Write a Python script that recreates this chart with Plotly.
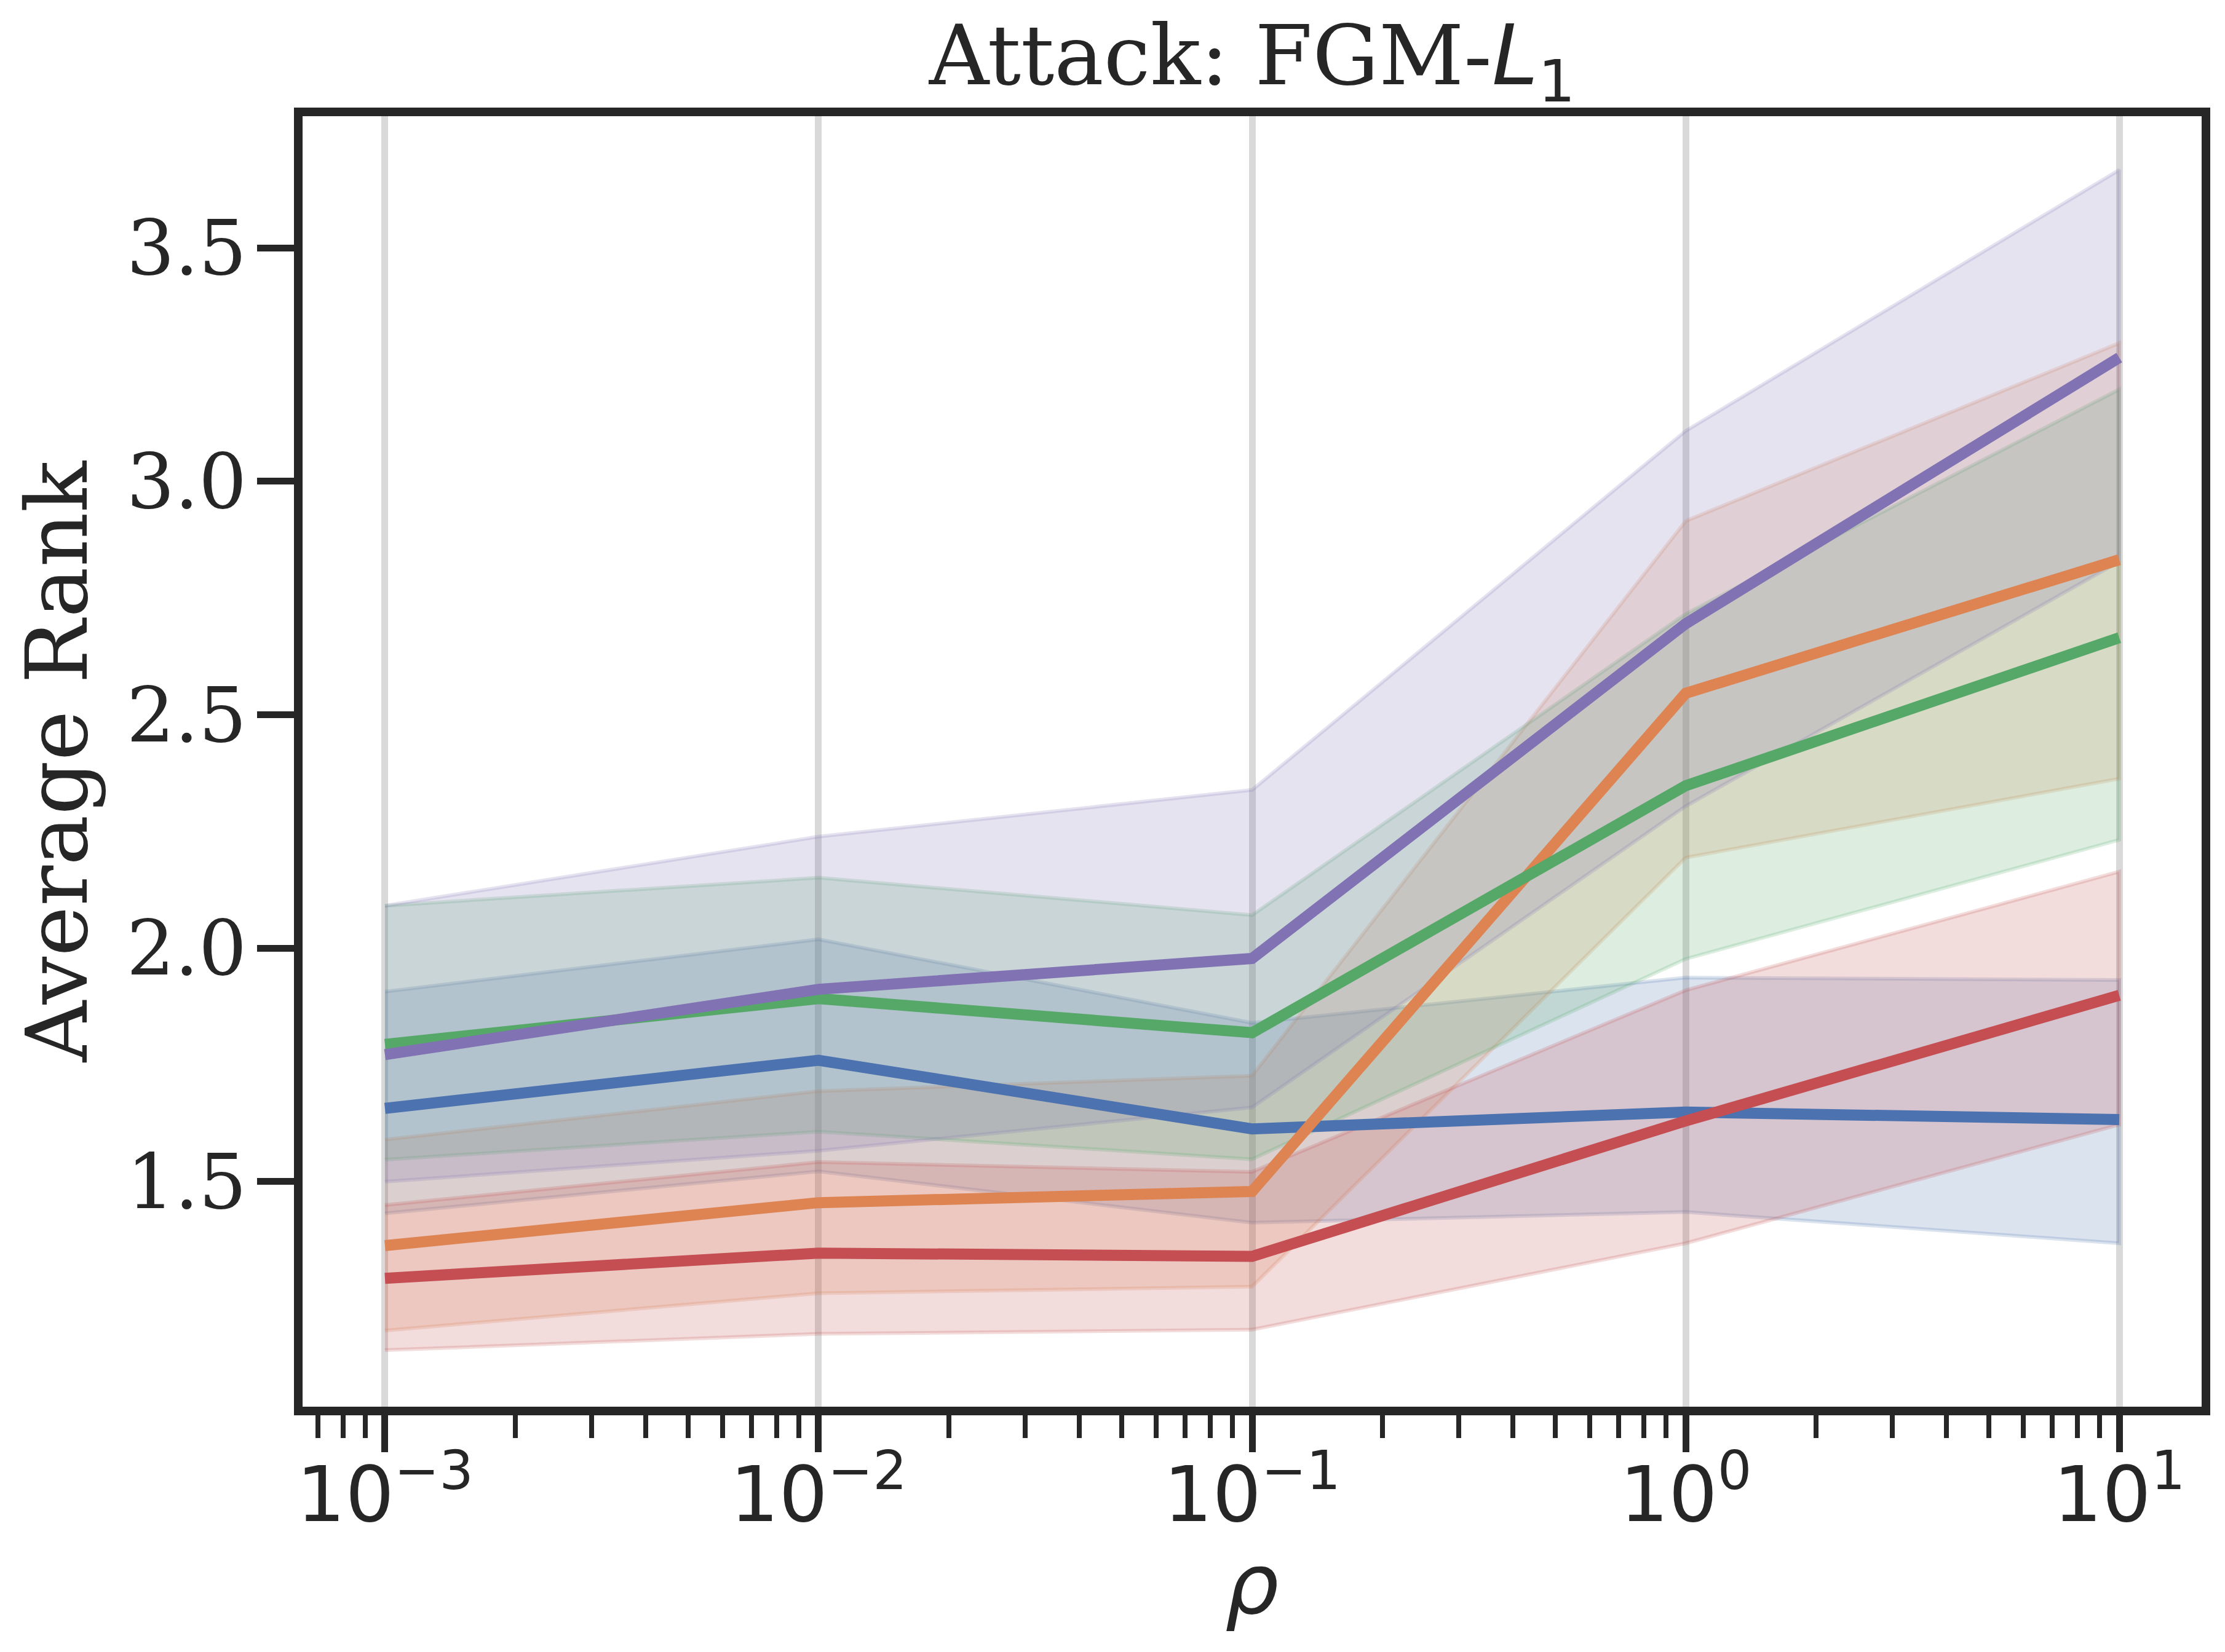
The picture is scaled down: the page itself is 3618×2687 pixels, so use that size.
"""Average rank vs rho for the FGM-L1 attack, seaborn-style line + CI bands."""
import plotly.graph_objects as go

# ---------- data ----------
RHO = [1e-3, 1e-2, 1e-1, 1e0, 1e1]

BLUE_MEAN = [1.657, 1.760, 1.613, 1.649, 1.633]
BLUE_HI = [1.907, 2.019, 1.840, 1.937, 1.932]
BLUE_LO = [1.432, 1.522, 1.412, 1.435, 1.368]

ORANGE_MEAN = [1.363, 1.455, 1.479, 2.546, 2.832]
ORANGE_HI = [1.590, 1.694, 1.727, 2.915, 3.296]
ORANGE_LO = [1.181, 1.261, 1.275, 2.194, 2.363]

GREEN_MEAN = [1.794, 1.892, 1.819, 2.348, 2.665]
GREEN_HI = [2.091, 2.151, 2.071, 2.716, 3.197]
GREEN_LO = [1.547, 1.607, 1.548, 1.977, 2.232]

RED_MEAN = [1.293, 1.347, 1.340, 1.630, 1.899]
RED_HI = [1.450, 1.542, 1.521, 1.910, 2.164]
RED_LO = [1.139, 1.174, 1.183, 1.368, 1.622]

PURPLE_MEAN = [1.772, 1.912, 1.978, 2.695, 3.265]
PURPLE_HI = [2.091, 2.239, 2.339, 3.108, 3.667]
PURPLE_LO = [1.500, 1.566, 1.659, 2.304, 2.828]

X_TICKS = [1e-3, 1e-2, 1e-1, 1e0, 1e1]
X_TICKTEXT = ["10<sup>−3</sup>", "10<sup>−2</sup>", "10<sup>−1</sup>", "10<sup>0</sup>", "10<sup>1</sup>"]
Y_TICKS = [1.5, 2.0, 2.5, 3.0, 3.5]

# seaborn "deep" palette, in hue order
SERIES = [
    ("#4C72B0", BLUE_MEAN, BLUE_LO, BLUE_HI),
    ("#DD8452", ORANGE_MEAN, ORANGE_LO, ORANGE_HI),
    ("#55A868", GREEN_MEAN, GREEN_LO, GREEN_HI),
    ("#C44E52", RED_MEAN, RED_LO, RED_HI),
    ("#8172B3", PURPLE_MEAN, PURPLE_LO, PURPLE_HI),
]

INK = "#262626"
SERIF = "DejaVu Serif"
SANS = "DejaVu Sans"   # matplotlib mathtext (log tick labels, rho, L_1)


def _rgba(hex_color, a):
    h = hex_color.lstrip("#")
    r, g, b = (int(h[i:i + 2], 16) for i in (0, 2, 4))
    return f"rgba({r},{g},{b},{a})"


fig = go.Figure()

# bands first (matplotlib draws collections under lines)
for color, _, lo, hi in SERIES:
    fig.add_trace(go.Scatter(
        x=RHO + RHO[::-1], y=hi + lo[::-1],
        mode="lines", fill="toself", fillcolor=_rgba(color, 0.2),
        line=dict(color=_rgba(color, 0.2), width=6),
        hoverinfo="skip", showlegend=False,
    ))

for color, mean, _, _ in SERIES:
    fig.add_trace(go.Scatter(
        x=RHO, y=mean, mode="lines",
        line=dict(color=color, width=18),
        showlegend=False,
    ))

minor_vals = [m * 10.0 ** e for e in range(-4, 2) for m in range(2, 10)]

axis_common = dict(
    showline=True, linewidth=14, linecolor=INK, mirror=True,
    ticks="outside", ticklen=60, tickwidth=11, tickcolor=INK,
    zeroline=False, automargin=False,
)

# plotly draws the frame just outside the plot area, so the domain is the
# inner edge of the frame (frame centre in the reference +/- 7 px)
fig.update_layout(
    template="none",
    width=3618, height=2687,
    margin=dict(l=484, r=46, t=181, b=407),
    paper_bgcolor="white", plot_bgcolor="white",
    showlegend=False,
    title=dict(
        text=f"Attack: FGM-<span style=\"font-family:'{SANS}'\"><i>L</i><sub>1</sub></span>",
        font=dict(family=SERIF, size=135, color=INK),
        x=0.5, xref="paper", xanchor="center",
        y=1, yref="paper", yanchor="bottom", pad=dict(b=52),
    ),
    xaxis=dict(
        type="log", range=[-3.19, 1.19],
        tickmode="array", tickvals=X_TICKS, ticktext=X_TICKTEXT,
        tickfont=dict(family=SANS, size=125, color=INK),
        showgrid=True, gridcolor="#d9d9d9", gridwidth=11,
        minor=dict(tickmode="array", tickvals=minor_vals, ticks="outside",
                   ticklen=37, tickwidth=8, tickcolor=INK, showgrid=False),
        ticklabelstandoff=-38,
        **axis_common,
    ),
    yaxis=dict(
        range=[1.018, 3.782],
        tickmode="array", tickvals=Y_TICKS, tickformat=".1f",
        tickfont=dict(family=SERIF, size=123, color=INK),
        showgrid=False,
        ticklabelstandoff=-8,
        **axis_common,
    ),
    annotations=[
        dict(text="<i>ρ</i>", xref="paper", yref="paper", x=0.5, y=0,
             xanchor="center", yanchor="middle", yshift=-288, showarrow=False,
             font=dict(family=SANS, size=138, color=INK)),
        dict(text="Average Rank", xref="paper", yref="paper", x=0, y=0.5,
             xanchor="center", yanchor="middle", xshift=-399, textangle=-90,
             showarrow=False, font=dict(family=SERIF, size=138, color=INK)),
    ],
)

fig.write_html("out.html")
